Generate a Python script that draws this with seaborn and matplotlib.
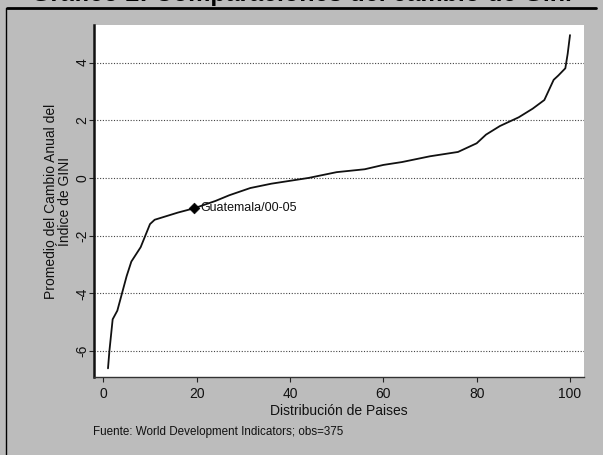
import matplotlib
matplotlib.use("Agg")
import matplotlib.pyplot as plt
import seaborn as sns
import pandas as pd
from matplotlib.lines import Line2D

# Distribution of countries (percentile) vs. average annual change in the GINI index
pct = [1, 1.3, 2, 3, 4, 5, 6, 8, 10, 11, 13, 16, 19.5, 24, 27, 31.5, 36, 40,
       44, 50, 56, 60, 64, 70, 76, 80, 82, 85, 89, 92, 94.5, 96.5, 97.5, 99,
       99.5, 100]
gini_change = [-6.6, -6.0, -4.9, -4.6, -4.0, -3.4, -2.9, -2.4, -1.6, -1.45,
               -1.35, -1.2, -1.05, -0.8, -0.6, -0.35, -0.2, -0.1, 0.0, 0.2,
               0.3, 0.45, 0.55, 0.75, 0.9, 1.2, 1.5, 1.8, 2.1, 2.4, 2.7, 3.4,
               3.55, 3.8, 4.3, 4.95]

highlight_label = "Guatemala/00-05"
highlight_x = [19.5]
highlight_y = [-1.05]

x_ticks = [0, 20, 40, 60, 80, 100]
y_ticks = [-6, -4, -2, 0, 2, 4]

title = "Gráfico 2: Comparaciones del cambio de Gini"
x_label = "Distribución de Paises"
y_label = "Promedio del Cambio Anual del\nÍndice de GINI"
source = "Fuente: World Development Indicators; obs=375"

df = pd.DataFrame({"pct": pct, "gini": gini_change})

sns.set_theme(style="white")
plt.rcParams["font.family"] = ["Liberation Sans", "DejaVu Sans"]

fig = plt.figure(figsize=(6.03, 4.55), dpi=100, facecolor="#bcbcbc")
ax = fig.add_axes([94 / 603, 1 - 377 / 455, 490 / 603, 352 / 455])
ax.set_facecolor("white")

sns.lineplot(data=df, x="pct", y="gini", ax=ax, color="#111111",
             linewidth=1.3, estimator=None, sort=False)
sns.scatterplot(x=highlight_x, y=highlight_y, ax=ax, marker="D", s=30,
                color="black", edgecolor="black", zorder=5)
ax.annotate(highlight_label, (highlight_x[0], highlight_y[0]),
            xytext=(4, 0), textcoords="offset points", va="center",
            ha="left", fontsize=9, color="#111111")

ax.set_xlim(-2, 103)
ax.set_ylim(-6.9, 5.3)
ax.set_xticks(x_ticks)
ax.set_yticks(y_ticks)
ax.set_yticklabels([str(v) for v in y_ticks], rotation=90, va="center")
ax.tick_params(axis="both", direction="out", length=3.5, width=0.8,
               color="#222222", labelsize=10, labelcolor="#111111",
               bottom=True, left=True)
ax.tick_params(axis="x", pad=4)
ax.tick_params(axis="y", pad=0)
ax.grid(axis="y", linestyle=(0, (1, 1.5)), color="#444444", linewidth=0.8)
ax.grid(axis="x", visible=False)

for side in ["top", "right"]:
    ax.spines[side].set_visible(False)
ax.spines["left"].set_color("#111111")
ax.spines["left"].set_linewidth(1.8)
ax.spines["bottom"].set_color("#333333")
ax.spines["bottom"].set_linewidth(1.0)

ax.set_xlabel(x_label, fontsize=10, color="#111111", labelpad=2)
ax.set_ylabel(y_label, fontsize=10, color="#111111", labelpad=2,
              linespacing=1.0)

# Caption and frame
fig.text(93 / 603, 1 - 432 / 455, source, fontsize=8.4, color="#111111",
         va="center", ha="left")
fig.text(0.5, 1 - 6 / 455, title, fontsize=18, fontweight="bold",
         color="black", ha="center", va="bottom")
fig.add_artist(Line2D([7 / 603, 596 / 603], [1 - 7.5 / 455, 1 - 7.5 / 455],
                      transform=fig.transFigure, color="black", linewidth=2))
fig.add_artist(Line2D([6 / 603, 6 / 603], [0, 1 - 7.5 / 455],
                      transform=fig.transFigure, color="black", linewidth=1))

fig.savefig("out.png", dpi=100, facecolor=fig.get_facecolor())
